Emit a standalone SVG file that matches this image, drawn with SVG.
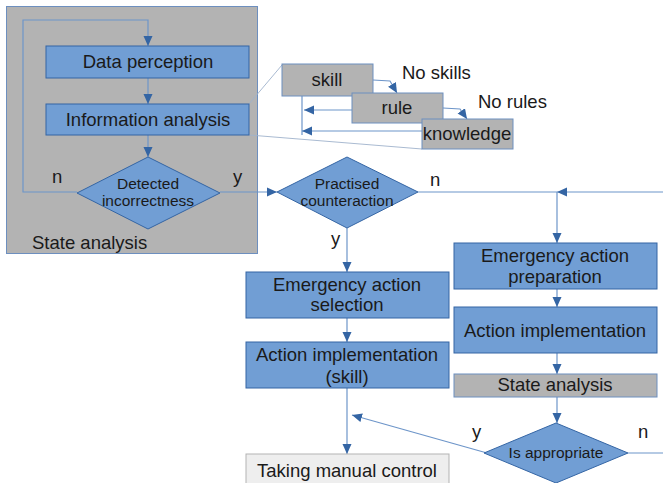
<svg xmlns="http://www.w3.org/2000/svg" width="663" height="483" viewBox="0 0 663 483">
<style>
.blue{fill:#719ed4;stroke:#3465a4;stroke-width:1}
.gray{fill:#b3b3b3;stroke:#6d8fbf;stroke-width:1}
.light{fill:#eeeeee;stroke:#b3b3b3;stroke-width:1}
.t{font-family:"Liberation Sans",Arial,sans-serif;font-size:18.5px;fill:#1a1a1a}
.s{font-family:"Liberation Sans",Arial,sans-serif;font-size:15.5px;fill:#1a1a1a}
.c{text-anchor:middle}
.ln{fill:none;stroke:#6d95c9;stroke-width:1.2}
.thin{fill:none;stroke:#9fb2cc;stroke-width:0.9}
</style>
<defs>
<marker id="ah" markerUnits="userSpaceOnUse" markerWidth="10" markerHeight="10" refX="10" refY="5" orient="auto" viewBox="0 0 10 10">
<path d="M0,0.5 L10,5 L0,9.5 z" fill="#3465a4"/>
</marker>
</defs>
<rect width="663" height="483" fill="#ffffff"/>

<g id="state-panel">
<rect class="gray" x="6.5" y="6.5" width="251" height="247"/>
<text class="t" x="32" y="249">State analysis</text>
</g>

<g id="connectors">
<path class="ln" d="M77,192 H23 V20 H148 V46" marker-end="url(#ah)"/>
<path class="ln" d="M148,78 V104" marker-end="url(#ah)"/>
<path class="ln" d="M148,135 V157" marker-end="url(#ah)"/>
<path class="ln" d="M220,192 H277" marker-end="url(#ah)"/>
<path class="ln" d="M418,192 H557"/>
<path class="ln" d="M663,192 H557" marker-end="url(#ah)"/>
<path class="ln" d="M557,192 V243" marker-end="url(#ah)"/>
<path class="ln" d="M347,228 V272" marker-end="url(#ah)"/>
<path class="ln" d="M347,318 V342" marker-end="url(#ah)"/>
<path class="ln" d="M347,388 V454" marker-end="url(#ah)"/>
<path class="ln" d="M557,289 V307" marker-end="url(#ah)"/>
<path class="ln" d="M557,353 V374" marker-end="url(#ah)"/>
<path class="ln" d="M557,397 V423" marker-end="url(#ah)"/>
<path class="ln" d="M487,453 L352,415" marker-end="url(#ah)"/>
<path class="ln" d="M628,453 H663"/>
<path class="ln" d="M373,80 L390,81 L397,93" marker-end="url(#ah)"/>
<path class="ln" d="M443,108 L460,109 L467,119" marker-end="url(#ah)"/>
<path class="ln" d="M302,96 V135"/>
<path class="ln" d="M352,110 H304" marker-end="url(#ah)"/>
<path class="ln" d="M422,131 H302" marker-end="url(#ah)"/>
<path class="thin" d="M249,104 L282,65"/>
<path class="thin" d="M249,135 L422,149"/>
</g>

<g id="data-perception">
<rect class="blue" x="46" y="46" width="203" height="32"/>
<text class="t c" x="148" y="68">Data perception</text>
</g>
<g id="information-analysis">
<rect class="blue" x="46" y="104" width="203" height="31"/>
<text class="t c" x="148" y="126">Information analysis</text>
</g>
<g id="detected-incorrectness">
<polygon class="blue" points="148,157 220,193 148,229 77,193"/>
<text class="s c" x="148" y="189">Detected</text>
<text class="s c" x="148" y="206">incorrectness</text>
</g>
<g id="labels-left">
<text class="t" x="52" y="183">n</text>
<text class="t" x="233" y="183">y</text>
</g>

<g id="skill">
<rect class="gray" x="282" y="64" width="91" height="32"/>
<text class="t c" x="327" y="86">skill</text>
</g>
<g id="rule">
<rect class="gray" x="352" y="93" width="91" height="30"/>
<text class="t c" x="397" y="114">rule</text>
</g>
<g id="knowledge">
<rect class="gray" x="422" y="119" width="91" height="30"/>
<text class="t c" x="467" y="140">knowledge</text>
</g>
<text class="t" x="402" y="79">No skills</text>
<text class="t" x="478" y="108">No rules</text>

<g id="practised-counteraction">
<polygon class="blue" points="347,157 418,192 347,228 277,192"/>
<text class="s c" x="347" y="189">Practised</text>
<text class="s c" x="347" y="206">counteraction</text>
</g>
<text class="t" x="430" y="186">n</text>
<text class="t" x="331" y="245">y</text>

<g id="emergency-action-selection">
<rect class="blue" x="246" y="272" width="203" height="46"/>
<text class="t c" x="347" y="291">Emergency action</text>
<text class="t c" x="347" y="311">selection</text>
</g>
<g id="action-implementation-skill">
<rect class="blue" x="246" y="342" width="203" height="46"/>
<text class="t c" x="347" y="361">Action implementation</text>
<text class="t c" x="347" y="383">(skill)</text>
</g>
<g id="taking-manual-control">
<rect class="light" x="246" y="454" width="203" height="40"/>
<text class="t c" x="347" y="477">Taking manual control</text>
</g>

<g id="emergency-action-preparation">
<rect class="blue" x="454" y="243" width="203" height="46"/>
<text class="t c" x="555" y="262">Emergency action</text>
<text class="t c" x="555" y="283">preparation</text>
</g>
<g id="action-implementation">
<rect class="blue" x="454" y="307" width="203" height="46"/>
<text class="t c" x="555" y="337">Action implementation</text>
</g>
<g id="state-analysis-2">
<rect class="gray" x="454" y="374" width="203" height="23"/>
<text class="t c" x="555" y="391">State analysis</text>
</g>
<g id="is-appropriate">
<polygon class="blue" points="556,423 628,453 556,483 484,453"/>
<text class="s c" x="556" y="458">Is appropriate</text>
</g>
<text class="t" x="472" y="438">y</text>
<text class="t" x="638" y="438">n</text>
</svg>
